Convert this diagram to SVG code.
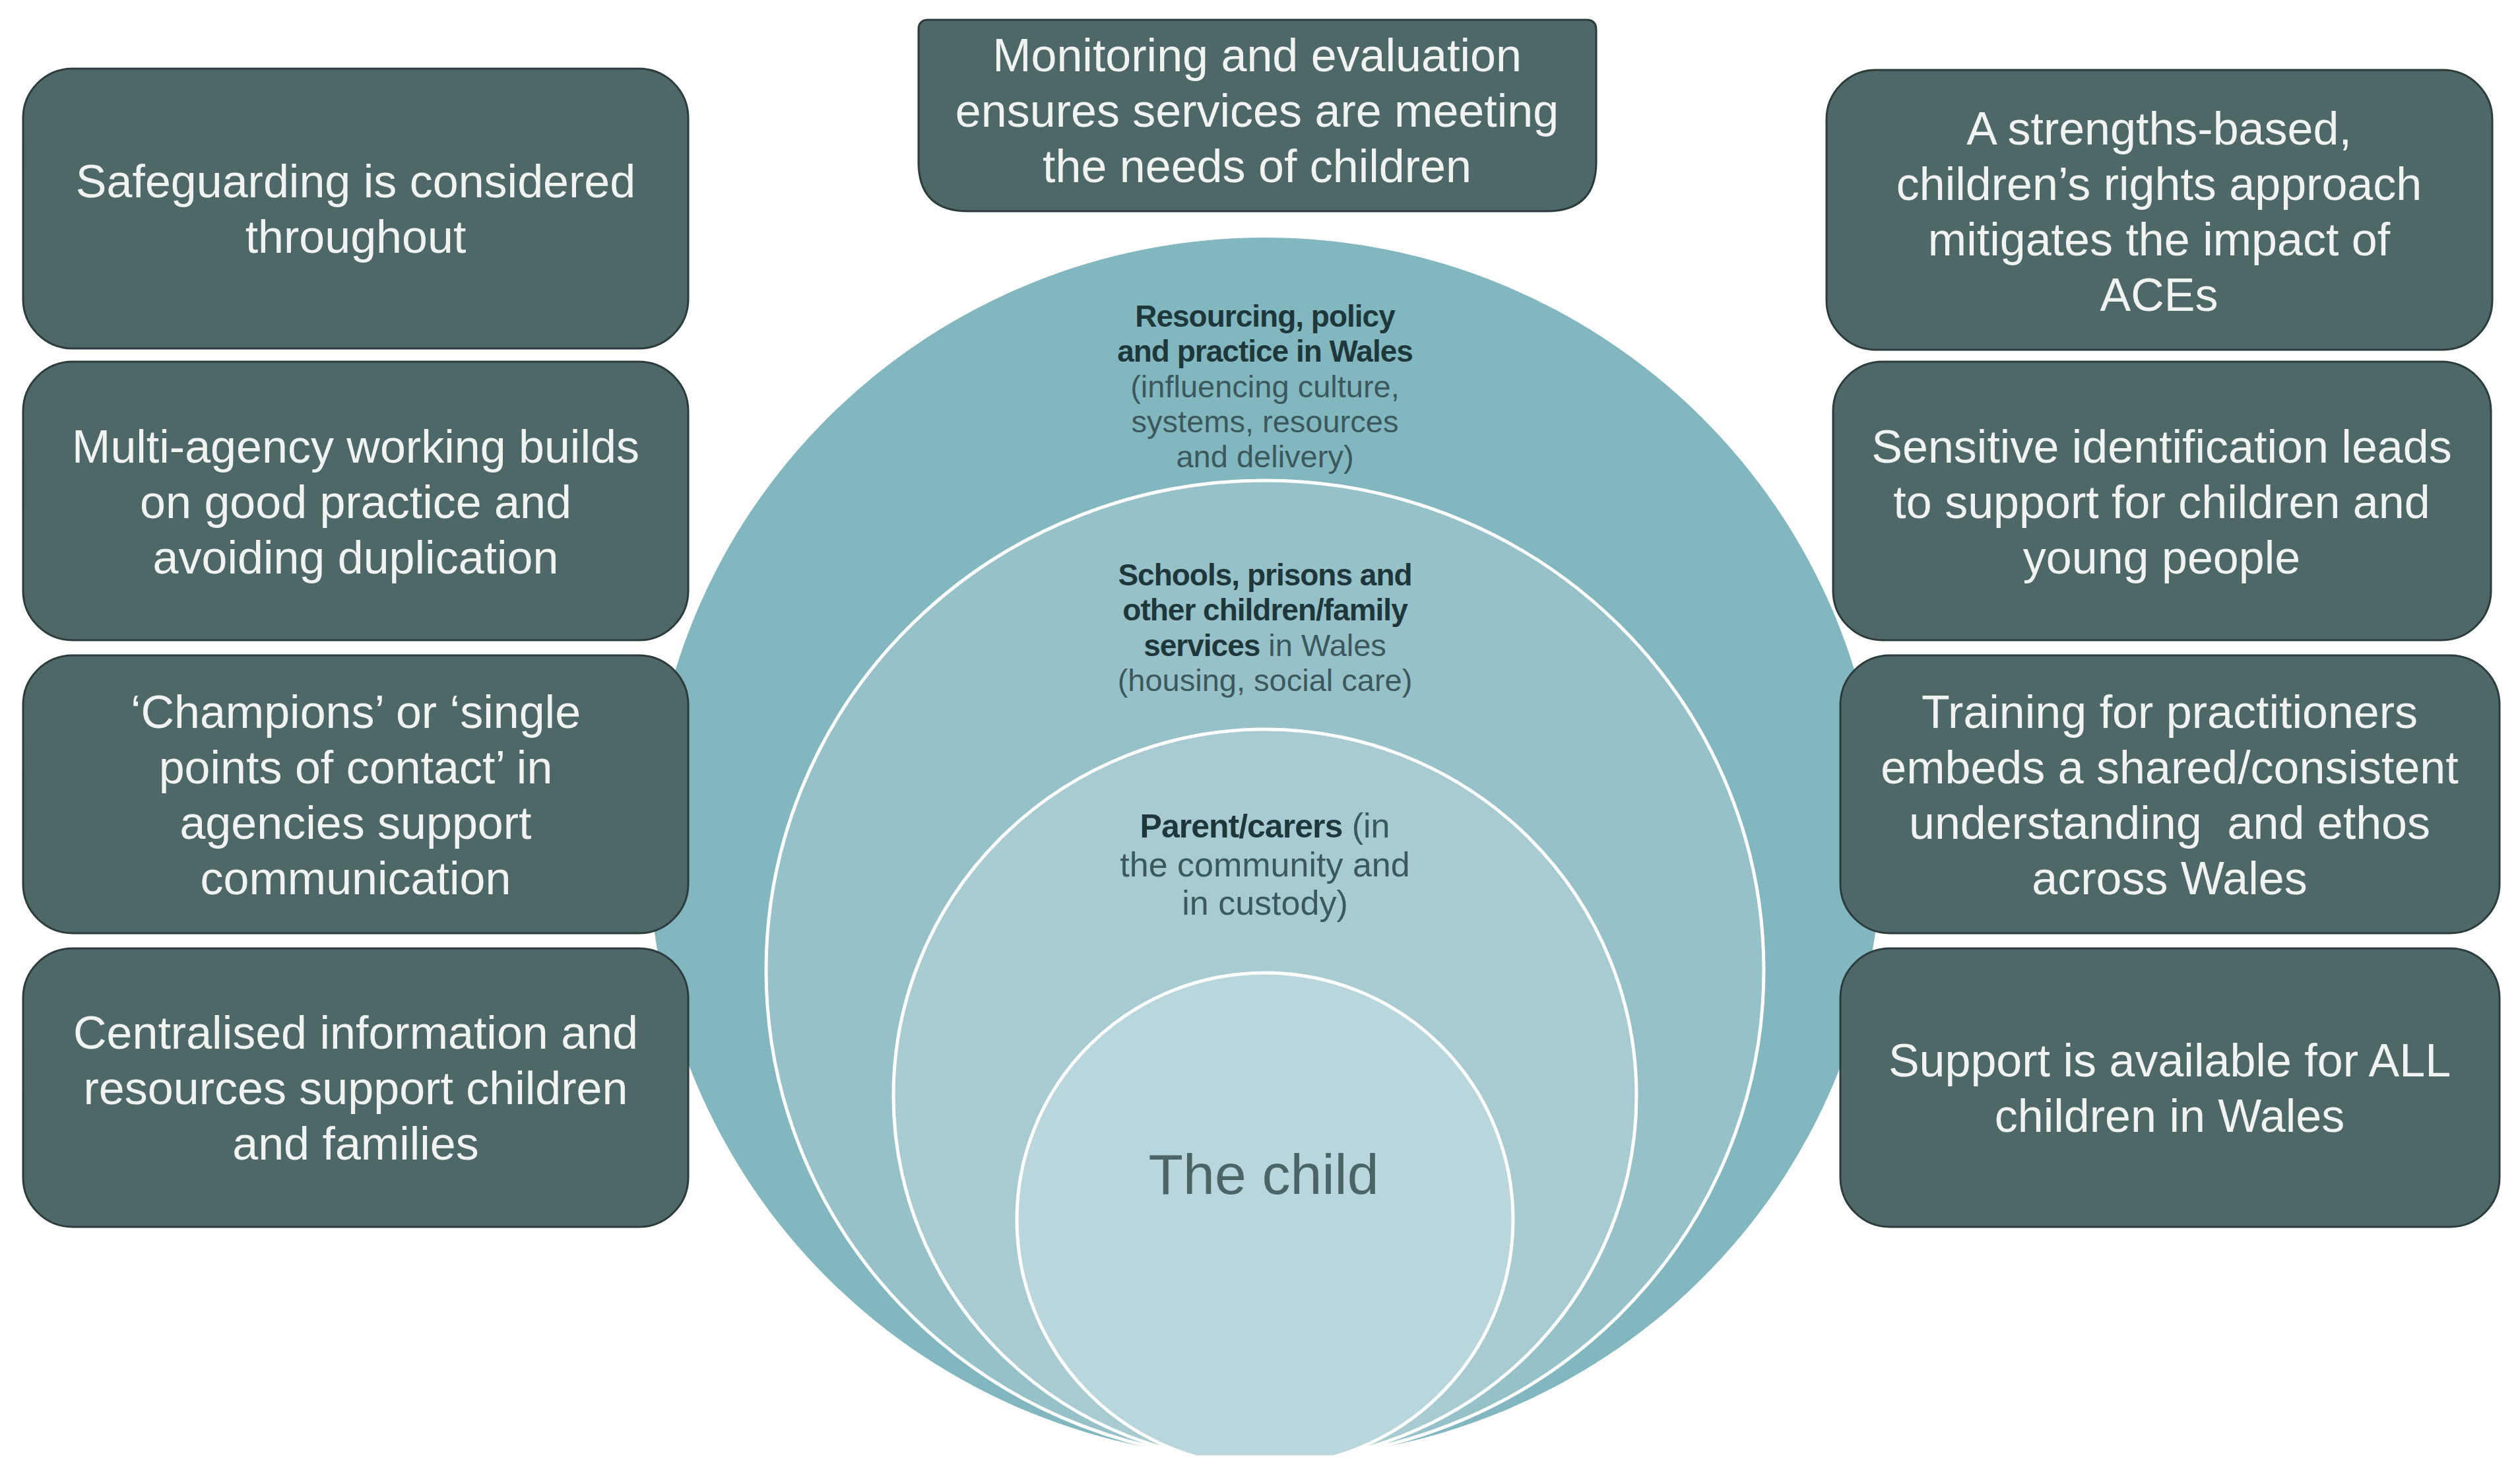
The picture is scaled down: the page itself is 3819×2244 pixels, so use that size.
<svg xmlns="http://www.w3.org/2000/svg" width="3819" height="2244" viewBox="0 0 3819 2244">
<defs>
<style>
.box{fill:#4e6868;stroke:#2c3c3c;stroke-width:3}
.bt{font-family:"Liberation Sans",Arial,sans-serif;font-size:70px;fill:#f1f3f3;text-anchor:middle}
.ct{font-family:"Liberation Sans",Arial,sans-serif;font-size:47px;fill:#3b585c;text-anchor:middle}
.b{font-weight:bold;fill:#1d373b;font-size:46px;letter-spacing:-1px}
.ring{stroke:#ffffff;stroke-width:5}
</style>
<clipPath id="clipc"><rect x="0" y="0" width="3819" height="2205"/></clipPath>
</defs>
<rect width="3819" height="2244" fill="#ffffff"/>

<g id="circles" clip-path="url(#clipc)">
  <g id="ring-resourcing"><ellipse cx="1917" cy="1285" rx="934" ry="925" fill="#82b7c0"/></g>
  <g id="ring-schools"><ellipse class="ring" cx="1917" cy="1470" rx="756" ry="742" fill="#97c1c8"/></g>
  <g id="ring-parents"><ellipse class="ring" cx="1917" cy="1660" rx="563" ry="555" fill="#a7cbd1"/></g>
  <g id="ring-child"><ellipse class="ring" cx="1917" cy="1848" rx="376" ry="374" fill="#b8d6db"/></g>
</g>

<g id="circle-labels">
  <text class="ct"><tspan class="b" x="1917" y="495">Resourcing, policy</tspan><tspan class="b" x="1917" y="548">and practice in Wales</tspan><tspan x="1917" y="602">(influencing culture,</tspan><tspan x="1917" y="655">systems, resources</tspan><tspan x="1917" y="708">and delivery)</tspan></text>
  <text class="ct"><tspan class="b" x="1917" y="887">Schools, prisons and</tspan><tspan class="b" x="1917" y="940">other children/family</tspan><tspan x="1917" y="994"><tspan class="b">services</tspan> in Wales</tspan><tspan x="1917" y="1047">(housing, social care)</tspan></text>
  <text class="ct" style="font-size:52px"><tspan x="1917" y="1269"><tspan class="b" style="font-size:50px">Parent/carers</tspan> (in</tspan><tspan x="1917" y="1328">the community and</tspan><tspan x="1917" y="1386">in custody)</tspan></text>
  <text x="1915" y="1809" style="font-family:'Liberation Sans',Arial,sans-serif;font-size:86px;fill:#4b6567;text-anchor:middle">The child</text>
</g>

<g id="connectors"></g>

<g id="box-monitoring">
  <path class="box" d="M1392,45 Q1392,30 1407,30 L2404,30 Q2419,30 2419,45 L2419,245 Q2419,320 2344,320 L1467,320 Q1392,320 1392,245 Z"/>
  <text class="bt"><tspan x="1905" y="108">Monitoring and evaluation</tspan><tspan x="1905" y="192">ensures services are meeting</tspan><tspan x="1905" y="276">the needs of children</tspan></text>
</g>

<g id="box-safeguarding">
  <rect class="box" x="35" y="104" width="1008" height="424" rx="75"/>
  <text class="bt"><tspan x="539" y="299">Safeguarding is considered</tspan><tspan x="539" y="383">throughout</tspan></text>
</g>
<g id="box-multiagency">
  <rect class="box" x="35" y="548" width="1008" height="422" rx="75"/>
  <text class="bt"><tspan x="539" y="701">Multi-agency working builds</tspan><tspan x="539" y="785">on good practice and</tspan><tspan x="539" y="869">avoiding duplication</tspan></text>
</g>
<g id="box-champions">
  <rect class="box" x="35" y="993" width="1008" height="421" rx="75"/>
  <text class="bt"><tspan x="539" y="1103">‘Champions’ or ‘single</tspan><tspan x="539" y="1187">points of contact’ in</tspan><tspan x="539" y="1271">agencies support</tspan><tspan x="539" y="1355">communication</tspan></text>
</g>
<g id="box-centralised">
  <rect class="box" x="35" y="1437" width="1008" height="422" rx="75"/>
  <text class="bt"><tspan x="539" y="1589">Centralised information and</tspan><tspan x="539" y="1673">resources support children</tspan><tspan x="539" y="1757">and families</tspan></text>
</g>

<g id="box-strengths">
  <rect class="box" x="2768" y="106" width="1009" height="424" rx="75"/>
  <text class="bt"><tspan x="3272" y="219">A strengths-based,</tspan><tspan x="3272" y="303">children’s rights approach</tspan><tspan x="3272" y="387">mitigates the impact of</tspan><tspan x="3272" y="471">ACEs</tspan></text>
</g>
<g id="box-identification">
  <rect class="box" x="2778" y="548" width="997" height="422" rx="75"/>
  <text class="bt"><tspan x="3276" y="701">Sensitive identification leads</tspan><tspan x="3276" y="785">to support for children and</tspan><tspan x="3276" y="869">young people</tspan></text>
</g>
<g id="box-training">
  <rect class="box" x="2789" y="993" width="999" height="421" rx="75"/>
  <text class="bt"><tspan x="3288" y="1103">Training for practitioners</tspan><tspan x="3288" y="1187">embeds a shared/consistent</tspan><tspan x="3288" y="1271">understanding&#160; and ethos</tspan><tspan x="3288" y="1355">across Wales</tspan></text>
</g>
<g id="box-support">
  <rect class="box" x="2789" y="1437" width="999" height="422" rx="75"/>
  <text class="bt"><tspan x="3288" y="1631">Support is available for ALL</tspan><tspan x="3288" y="1715">children in Wales</tspan></text>
</g>
</svg>
